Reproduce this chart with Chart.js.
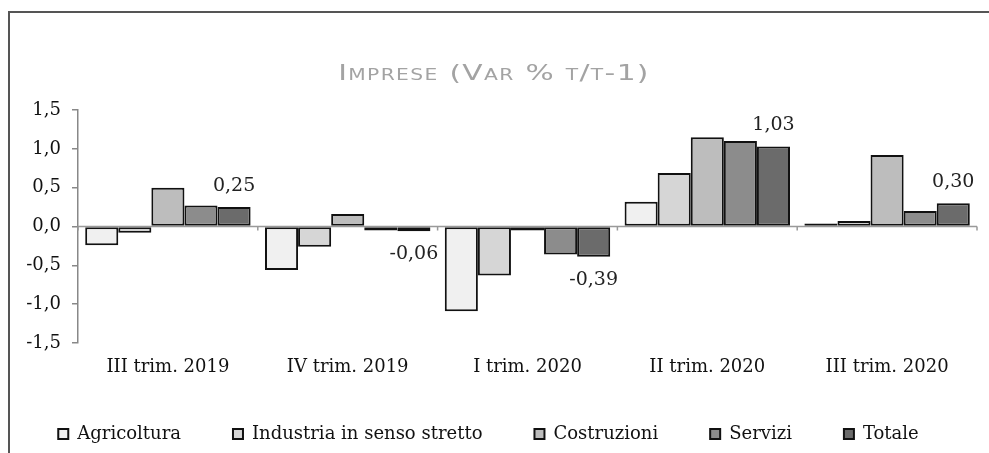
<!DOCTYPE html>
<html>
<head>
<meta charset="utf-8">
<script src="https://cdn.jsdelivr.net/npm/chart.js@4.4.1/dist/chart.umd.min.js"></script>
<style>
    html, body { margin: 0; padding: 0; background: #fff; }
    .frame {
        position: absolute; left: 8px; top: 11px; width: 1000px; height: 460px;
        border-left: 2px solid #555; border-top: 2px solid #555;
    }
    .wrap { position: absolute; left: 0; top: 0; width: 989px; height: 453px; }
</style>
</head>
<body>
<div class="frame"></div>
<div class="wrap"><canvas id="impreseChart"></canvas></div>
<script>
// --- data ---
const categories = ['III trim. 2019', 'IV trim. 2019', 'I trim. 2020', 'II trim. 2020', 'III trim. 2020'];
const agricoltura = [-0.24, -0.56, -1.09, 0.32, 0.04];
const industria   = [-0.08, -0.26, -0.63, 0.69, 0.07];
const costruzioni = [0.50, 0.16, -0.05, 1.15, 0.92];
const servizi     = [0.27, -0.05, -0.36, 1.10, 0.20];
const totale      = [0.25, -0.06, -0.39, 1.03, 0.30];
const yTicks = [-1.5, -1.0, -0.5, 0.0, 0.5, 1.0, 1.5];
const titleText = 'Imprese (Var % t/t-1)';

const fmt = (v, d) => v.toFixed(d).replace('.', ',');
const serif = '"DejaVu Serif", serif';

// wide small-caps title (stretched horizontally like the original face)
const wideTitle = {
    id: 'wideTitle',
    afterDraw(chart) {
        const {ctx} = chart;
        ctx.save();
        ctx.font = 'small-caps 22px "DejaVu Sans", sans-serif';
        ctx.letterSpacing = '1px';
        ctx.fillStyle = '#a3a3a3';
        ctx.textAlign = 'center';
        ctx.textBaseline = 'middle';
        ctx.translate(494, 74);
        ctx.scale(1.35, 1);
        ctx.fillText(titleText, 0, 0);
        ctx.restore();
    }
};

// zero line + little category marks on it
const zeroLine = {
    id: 'zeroLine',
    afterDatasetsDraw(chart) {
        const {ctx, scales: {x, y}, chartArea} = chart;
        const y0 = y.getPixelForValue(0);
        ctx.save();
        ctx.strokeStyle = '#999';
        ctx.lineWidth = 1.5;
        ctx.beginPath();
        ctx.moveTo(chartArea.left, y0);
        ctx.lineTo(chartArea.right, y0);
        const n = categories.length;
        for (let i = 0; i <= n; i++) {
            const px = x.left + i * x.width / n;
            ctx.moveTo(px, y0);
            ctx.lineTo(px, y0 + 4);
        }
        ctx.stroke();
        ctx.restore();
    }
};

// value labels on the Totale series only
const totalLabels = {
    id: 'totalLabels',
    afterDatasetsDraw(chart) {
        const {ctx} = chart;
        const meta = chart.getDatasetMeta(4);
        ctx.save();
        ctx.font = '19px ' + serif;
        ctx.fillStyle = '#222';
        ctx.textAlign = 'center';
        ctx.textBaseline = 'middle';
        meta.data.forEach((bar, i) => {
            const v = totale[i];
            const ty = v >= 0 ? bar.y - 21 : bar.y + 23;
            ctx.fillText(fmt(v, 2), bar.x, ty);
        });
        ctx.restore();
    }
};

const series = [
    ['Agricoltura', agricoltura, '#f0f0f0'],
    ['Industria in senso stretto', industria, '#d6d6d6'],
    ['Costruzioni', costruzioni, '#bdbdbd'],
    ['Servizi', servizi, '#8c8c8c'],
    ['Totale', totale, '#6b6b6b']
];

new Chart(document.getElementById('impreseChart'), {
    type: 'bar',
    data: {
        labels: categories,
        datasets: series.map(([label, data, color]) => ({
            label,
            data,
            backgroundColor: color,
            borderColor: '#111',
            borderWidth: 2,
            borderSkipped: false,
            categoryPercentage: 0.92,
            barPercentage: 1.0
        }))
    },
    options: {
        responsive: true,
        maintainAspectRatio: false,
        animation: false,
        layout: { padding: { top: 110, left: 0, right: 12, bottom: 0 } },
        plugins: {
            title: { display: false },
            legend: {
                position: 'bottom',
                labels: {
                    color: '#111',
                    font: { family: serif, size: 18 },
                    boxWidth: 10,
                    boxHeight: 10,
                    padding: 52
                }
            },
            tooltip: { enabled: false }
        },
        scales: {
            x: {
                grid: { display: false, drawTicks: false },
                border: { display: false },
                ticks: { color: '#111', font: { family: serif, size: 18 }, padding: 14 },
                afterFit: (s) => { s.height = 30; }
            },
            y: {
                min: -1.5,
                max: 1.5,
                afterBuildTicks: (s) => { s.ticks = yTicks.map(v => ({ value: v })); },
                grid: { drawOnChartArea: false, drawTicks: true, tickLength: 6, color: '#888', lineWidth: 1.5 },
                border: { display: true, color: '#888', width: 1.5 },
                ticks: {
                    color: '#111',
                    font: { family: serif, size: 18 },
                    padding: 11,
                    callback: (v) => fmt(v, 1)
                },
                afterFit: (s) => { s.width = 78; }
            }
        }
    },
    plugins: [zeroLine, totalLabels, wideTitle]
});
</script>
</body>
</html>
